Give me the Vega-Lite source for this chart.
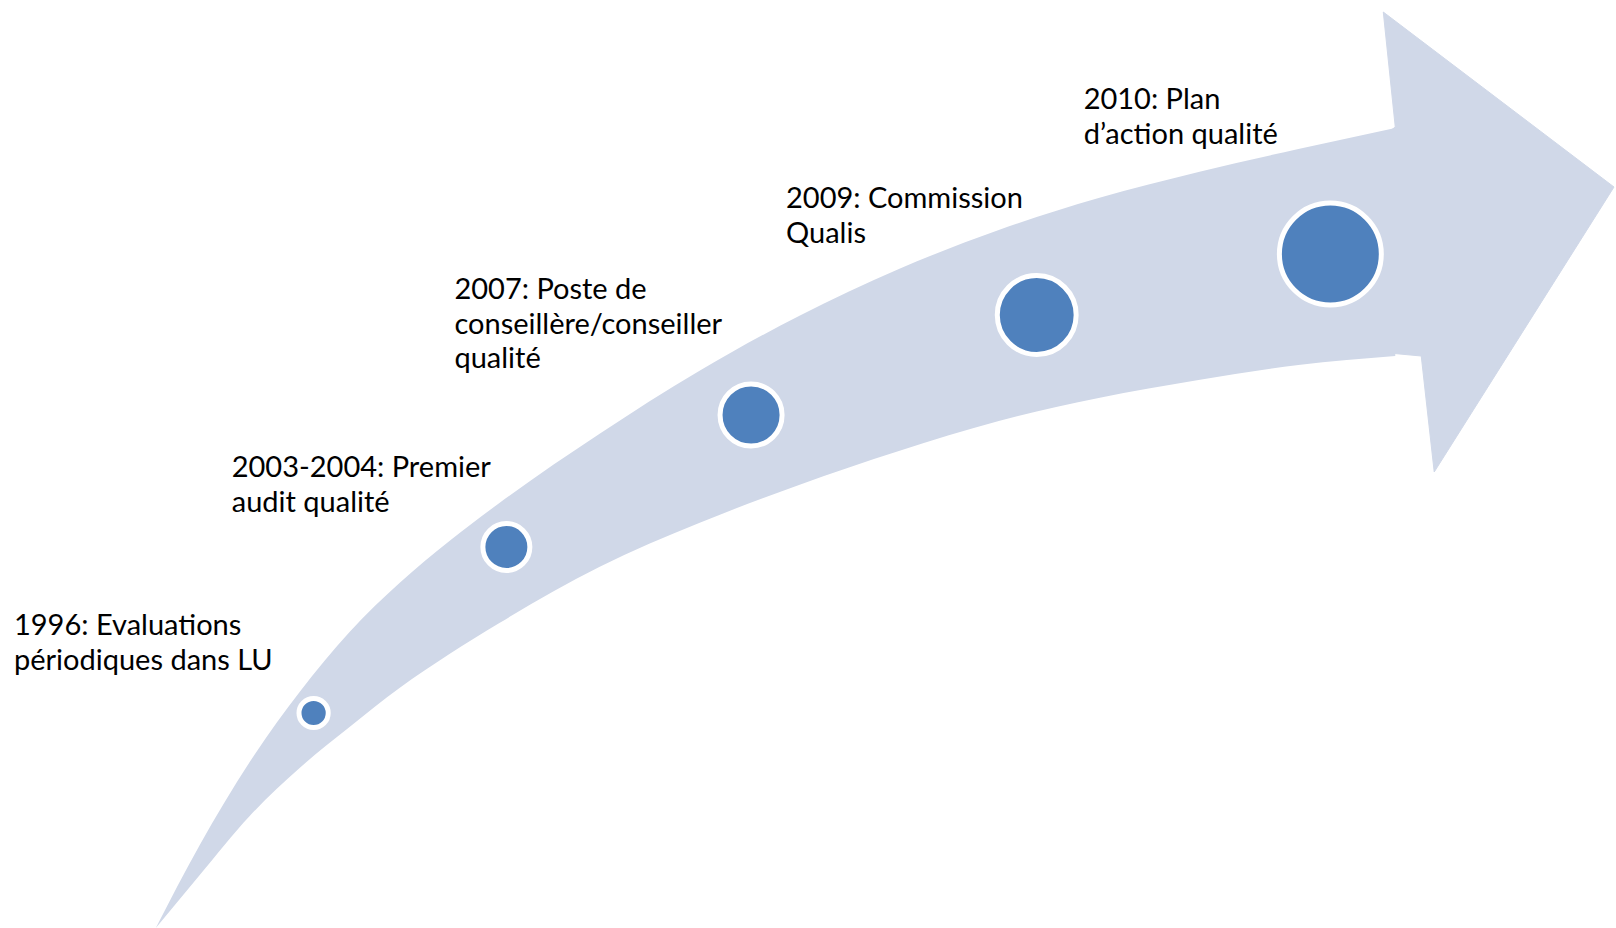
{
  "$schema": "https://vega.github.io/schema/vega-lite/v6.json",
  "width": 1616,
  "height": 928,
  "padding": 0,
  "autosize": {"type": "fit", "contains": "padding"},
  "background": "white",
  "datasets": {
    "body": [
      {"x": 156, "top": 928, "bottom": 928},
      {"x": 200, "top": 845, "bottom": 875},
      {"x": 250, "top": 762, "bottom": 816},
      {"x": 300, "top": 692, "bottom": 768},
      {"x": 350, "top": 632, "bottom": 727},
      {"x": 400, "top": 583, "bottom": 688},
      {"x": 450, "top": 541, "bottom": 654},
      {"x": 500, "top": 503, "bottom": 623},
      {"x": 600, "top": 434, "bottom": 567},
      {"x": 700, "top": 371, "bottom": 523},
      {"x": 800, "top": 316, "bottom": 485},
      {"x": 900, "top": 269, "bottom": 451},
      {"x": 1000, "top": 230, "bottom": 421},
      {"x": 1100, "top": 198, "bottom": 398},
      {"x": 1200, "top": 172, "bottom": 380},
      {"x": 1300, "top": 149, "bottom": 365},
      {"x": 1397, "top": 128, "bottom": 356}
    ],
    "head": [
      {"i": 1, "x": 1380, "y": 140},
      {"i": 2, "x": 1397, "y": 127},
      {"i": 3, "x": 1385, "y": 12},
      {"i": 4, "x": 1616, "y": 187},
      {"i": 5, "x": 1436, "y": 472},
      {"i": 6, "x": 1423, "y": 356},
      {"i": 7, "x": 1380, "y": 352}
    ],
    "events": [
      {"step": 1, "x": 314, "y": 713, "lx": 14, "ly": 635, "label": "1996: Evaluations\npériodiques dans LU"},
      {"step": 2, "x": 507, "y": 547, "lx": 232, "ly": 477, "label": "2003-2004: Premier\naudit qualité"},
      {"step": 3, "x": 752, "y": 415, "lx": 455, "ly": 299, "label": "2007: Poste de\nconseillère/conseiller\nqualité"},
      {"step": 4, "x": 1038, "y": 315, "lx": 787, "ly": 208, "label": "2009: Commission\nQualis"},
      {"step": 5, "x": 1332, "y": 254, "lx": 1085, "ly": 109, "label": "2010: Plan\nd’action qualité"}
    ]
  },
  "layer": [
    {
      "data": {"name": "body"},
      "mark": {"type": "area", "color": "#d0d8e8", "opacity": 1, "interpolate": "monotone"},
      "encoding": {
        "x": {"field": "x", "type": "quantitative", "scale": {"domain": [0, 1616], "nice": false, "zero": false}, "axis": null},
        "y": {"field": "top", "type": "quantitative", "scale": {"domain": [0, 928], "nice": false, "zero": false, "reverse": true}, "axis": null},
        "y2": {"field": "bottom"}
      }
    },
    {
      "data": {"name": "head"},
      "mark": {"type": "line", "fill": "#d0d8e8", "stroke": "#d0d8e8", "strokeWidth": 1, "interpolate": "linear-closed"},
      "encoding": {
        "x": {"field": "x", "type": "quantitative", "axis": null},
        "y": {"field": "y", "type": "quantitative", "axis": null},
        "order": {"field": "i"}
      }
    },
    {
      "data": {"name": "events"},
      "mark": {"type": "point", "shape": "circle", "filled": true, "fill": "#4f81bd", "stroke": "white", "strokeWidth": 5, "opacity": 1},
      "encoding": {
        "x": {"field": "x", "type": "quantitative", "axis": null},
        "y": {"field": "y", "type": "quantitative", "axis": null},
        "size": {"field": "step", "type": "ordinal", "scale": {"type": "ordinal", "domain": [1, 2, 3, 4, 5], "range": [855, 2206, 3848, 6221, 10387]}, "legend": null}
      }
    },
    {
      "data": {"name": "events"},
      "mark": {"type": "text", "align": "left", "baseline": "alphabetic", "lineBreak": "\n", "lineHeight": 34.5, "font": "Lato", "fontSize": 29, "color": "black"},
      "encoding": {
        "x": {"field": "lx", "type": "quantitative", "axis": null},
        "y": {"field": "ly", "type": "quantitative", "axis": null},
        "text": {"field": "label"}
      }
    }
  ],
  "config": {"view": {"stroke": null}}
}
